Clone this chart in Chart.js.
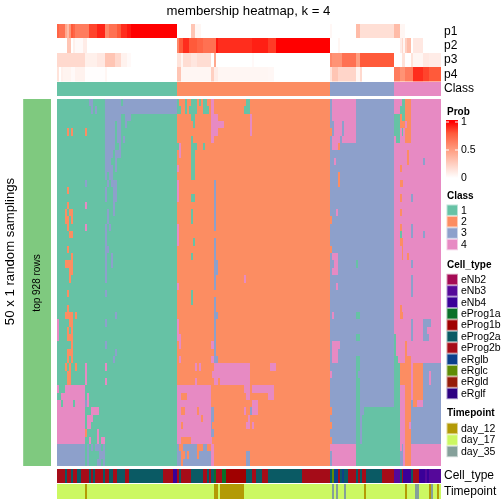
<!DOCTYPE html>
<html>
<head>
<meta charset="utf-8">
<title>membership heatmap, k = 4</title>
<script src="https://cdn.jsdelivr.net/npm/chart.js@4"></script>
<style>
  html, body { margin: 0; padding: 0; background: #fff; }
  canvas { display: block; }
</style>
</head>
<body>
<canvas id="heatmap" width="504" height="504"></canvas>
<script>
// ---------------------- data ----------------------
const columnCount = 193;
const classNames = ["1", "2", "3", "4"];
const classColors = ["#66C2A5", "#FC8D62", "#8DA0CB", "#E78AC3"];
// class of every column before the per-row differences below: [class, end column]
const classBlocks = [[1, 60], [2, 137], [3, 169], [4, 193]];

const cellTypeNames = ["eNb2", "eNb3", "eNb4", "eProg1a", "eProg1b", "eProg2a", "eProg2b", "eRglb", "eRglc", "eRgld", "eRglf"];
const cellTypeColors = ["#A50A55", "#55089A", "#3A0098", "#0A7028", "#A00000", "#0A5A64", "#A50C18", "#0A408C", "#5F8C05", "#961C0A", "#2D0082"];
const timepointNames = ["day_12", "day_17", "day_35"];
const timepointColors = ["#B39A05", "#CCF862", "#85A09A"];
const trackNames = ["p1", "p2", "p3", "p4"];

// membership probability tracks: [start, end, prob]
const p1Runs = [[0,1,.75],[1,4,.7],[4,5,.45],[5,6,.35],[6,7,.55],[7,8,.8],[8,9,.75],[9,16,.65],[16,20,.85],[20,24,.92],[24,26,.6],[26,30,.7],[30,32,.8],[32,35,.9],[35,37,.95],[37,60,1],[60,67,0],[67,69,.3],[69,72,.05],[72,137,0],[137,138,.04],[138,150,0],[150,152,.35],[152,169,.17],[169,172,.35],[172,175,.05],[175,193,0]];
const p2Runs = [[0,5,0],[5,7,.3],[7,8,0],[8,9,.08],[9,13,.03],[13,15,.1],[15,60,0],[60,61,.6],[61,63,.8],[63,66,.9],[66,70,.8],[70,73,.75],[73,80,.7],[80,81,.95],[81,98,.9],[98,106,.93],[106,110,.87],[110,137,1],[137,141,0],[141,142,.05],[142,172,0],[172,173,.1],[173,174,.2],[174,175,.05],[175,176,.25],[176,178,.35],[178,179,0],[179,184,.12],[184,193,0]];
const p3Runs = [[0,14,.2],[14,16,.08],[16,20,.08],[20,24,.12],[24,29,.3],[29,32,.2],[32,35,.07],[35,37,.03],[37,60,0],[60,62,.15],[62,63,.05],[63,67,.18],[67,70,.13],[70,77,.18],[77,79,0],[79,80,.45],[80,98,0],[98,99,.03],[99,137,0],[137,138,.6],[138,143,.55],[143,150,.7],[150,152,.5],[152,169,.8],[169,173,0],[173,175,.15],[175,178,0],[178,179,.15],[179,184,.05],[184,187,.12],[187,193,.1]];
const p4Runs = [[0,1,.15],[1,2,0],[2,3,.08],[3,7,.06],[7,9,.03],[9,14,.07],[14,24,.01],[24,25,.05],[25,60,0],[60,62,.3],[62,77,.05],[77,79,.25],[79,81,.1],[81,106,.05],[106,109,.04],[109,137,0],[137,138,.15],[138,141,.3],[141,150,.22],[150,152,.05],[152,153,.2],[153,169,0],[169,172,.65],[172,175,.55],[175,179,.65],[179,184,.9],[184,187,.85],[187,193,.8]];

// bottom annotation tracks: [name, end column]
const cellTypeRuns = [["eProg2b",4],["eProg2a",5],["eProg2b",7],["eProg2a",8],["eProg2b",10],["eProg2a",12],["eProg2b",16],["eProg2a",17],["eProg2b",18],["eProg2a",19],["eProg2b",23],["eProg2a",24],["eProg2b",26],["eProg2a",28],["eProg2b",30],["eProg2a",34],["eProg2b",36],["eProg2a",53],["eProg2b",58],["eNb4",60],["eProg2b",61],["eProg2a",62],["eProg2b",67],["eProg2a",73],["eProg2b",75],["eProg2a",76],["eProg2b",77],["eProg2a",79],["eProg1a",80],["eProg2b",83],["eProg1a",85],["eProg1b",95],["eProg2a",98],["eProg2b",100],["eProg2a",103],["eProg2b",106],["eProg2a",123],["eProg2b",137],["eProg2a",138],["eRglc",139],["eRglb",141],["eProg2b",142],["eProg2a",143],["eRglb",144],["eProg2a",146],["eProg2b",150],["eProg2a",151],["eProg2b",152],["eProg2a",153],["eProg2b",155],["eProg2a",163],["eProg2b",169],["eNb3",172],["eProg2a",173],["eProg2b",174],["eNb4",178],["eProg2a",179],["eProg2b",182],["eNb4",185],["eNb3",186],["eNb4",187],["eNb3",193]];
const timepointRuns = [["day_17",14],["day_12",15],["day_17",79],["day_12",81],["day_17",82],["day_12",94],["day_17",138],["day_35",139],["day_17",140],["day_35",141],["day_17",144],["day_35",145],["day_17",154],["day_12",155],["day_17",175],["day_12",176],["day_17",180],["day_35",182],["day_17",187],["day_12",188],["day_35",189],["day_17",191],["day_12",192],["day_17",193]];

// per row differences from classBlocks, flat triples: class, start, end (later wins)
const rowChanges = [
  [3,16,18, 3,24,32, 3,33,60, 1,60,61, 1,64,65, 1,67,70, 1,71,72, 1,73,75, 4,77,79, 1,95,97, 3,137,138, 4,138,150, 1,173,175, 2,175,178],
  [3,17,18, 3,19,20, 3,24,60, 1,60,62, 1,64,65, 1,66,70, 1,73,76, 4,77,79, 1,94,97, 4,138,150, 4,171,172, 1,172,175, 2,175,178],
  [3,24,32, 3,34,37, 1,67,69, 4,77,81, 4,97,98, 4,138,150, 1,169,172, 2,172,173, 1,173,175, 2,175,178],
  [3,24,29, 3,30,32, 3,34,35, 1,68,69, 4,77,84, 4,97,98, 4,139,143, 4,144,150, 1,169,172, 2,172,175, 2,176,178],
  [2,5,6, 2,7,8, 2,14,15, 3,24,29, 3,30,32, 4,77,81, 4,97,98, 2,137,138, 4,139,143, 4,144,150, 1,169,172, 1,173,174, 2,175,178],
  [3,24,29, 3,30,32, 3,33,34, 1,67,68, 4,77,79, 4,138,142, 4,143,150, 1,170,172, 2,175,178],
  [3,24,29, 3,31,32, 1,60,61, 4,61,62, 1,67,70, 1,73,74, 4,138,141, 2,141,142],
  [3,24,28, 3,29,32, 4,61,62, 1,67,69, 2,176,177],
  [3,24,27, 3,29,30, 1,67,69, 4,139,140, 2,176,177, 3,184,185],
  [3,24,28, 3,29,30, 4,60,61, 1,67,69, 2,172,173],
  [3,24,25, 3,26,28, 1,67,69, 2,141,142],
  [3,14,15, 3,25,26, 3,27,30, 4,60,61, 3,79,80, 2,141,142, 2,172,174],
  [2,5,6, 3,24,25, 3,28,30, 4,60,61, 3,79,80],
  [3,24,25, 3,28,30, 4,60,61, 1,67,69, 3,79,80, 2,172,173, 3,178,179],
  [2,5,6, 4,14,15, 3,28,29, 3,79,80],
  [2,4,5, 2,6,8, 3,25,26, 3,28,29, 1,67,68, 3,79,80, 4,140,141, 2,172,173],
  [2,4,6, 2,7,8, 3,25,26, 1,67,68, 3,79,80, 2,137,138],
  [2,5,6, 4,14,15, 3,24,25, 3,26,27, 4,60,61, 3,79,80, 2,172,173, 3,178,179],
  [2,6,8, 3,24,25, 4,60,61, 1,172,173, 3,178,179, 3,184,185],
  [3,24,25, 4,60,61, 1,68,69, 3,79,80, 2,172,174],
  [2,5,6, 3,24,26, 3,79,80, 2,137,138, 2,173,174],
  [2,7,8, 3,24,25, 3,27,28, 1,67,68, 3,79,80, 4,138,141, 2,173,174, 2,176,177],
  [2,4,8, 3,24,25, 3,27,28, 3,79,81, 4,139,141, 1,150,151, 3,178,179],
  [2,6,8, 3,24,25, 3,79,81, 4,138,141],
  [2,6,7, 3,24,25, 3,79,80, 4,94,95, 3,178,179],
  [4,60,61, 3,79,80, 4,140,141, 3,178,179],
  [2,5,6, 3,24,25, 1,67,68, 3,178,179],
  [1,67,68, 3,79,80],
  [2,5,6, 3,79,80, 2,172,173],
  [2,4,8, 2,9,10, 3,29,30, 3,79,81, 4,138,139, 1,150,152, 2,172,174],
  [4,0,1, 2,6,8, 3,24,25, 4,60,61, 3,79,80, 3,178,179, 3,184,188],
  [4,0,1, 2,5,6, 2,7,8, 4,60,61, 3,79,80, 3,178,179, 3,184,186],
  [4,0,1, 2,5,8, 4,60,62, 3,79,80, 1,150,152, 1,169,170, 3,178,179, 3,184,187],
  [2,7,8, 3,24,25, 4,61,62, 4,77,79, 3,79,80, 4,138,142, 1,169,170, 2,175,176],
  [2,5,8, 3,29,30, 3,79,80, 4,138,141, 1,169,170, 2,175,176],
  [2,5,6, 2,7,8, 3,28,29, 4,61,62, 4,77,79, 3,79,81, 4,138,141, 1,150,152, 1,169,171, 2,175,178],
  [2,4,5, 2,6,7, 2,9,10, 4,14,15, 4,24,25, 4,69,70, 4,71,72, 4,79,97, 4,107,110, 1,150,152, 1,169,172, 2,172,178, 2,179,184, 3,184,193],
  [2,5,7, 4,14,15, 4,78,97, 4,137,138, 1,150,151, 1,169,172, 2,172,178, 2,179,184, 3,184,187, 3,188,193],
  [2,5,7, 4,14,15, 4,24,25, 4,69,70, 4,79,81, 4,82,97, 1,150,152, 1,169,172, 2,172,178, 2,179,184, 3,184,187, 3,188,193],
  [4,0,1, 4,4,14, 4,60,77, 4,94,97, 4,98,109, 1,150,152, 1,169,172, 2,175,178, 2,179,184, 3,184,193],
  [4,2,14, 4,15,16, 4,60,62, 4,65,77, 4,95,97, 4,106,109, 1,150,152, 1,169,172, 2,175,178, 2,179,184, 3,184,193],
  [4,0,2, 4,3,8, 4,9,14, 3,14,15, 4,15,16, 4,60,77, 4,98,101, 1,150,152, 1,169,172, 2,175,178, 3,178,193, 2,179,181, 4,181,184],
  [4,0,14, 4,17,21, 4,60,62, 4,64,70, 4,71,77, 3,77,79, 4,94,95, 3,97,98, 4,98,101, 2,137,138, 1,150,152, 1,154,172, 2,175,178, 3,178,193],
  [4,0,14, 4,15,18, 4,60,72, 4,73,77, 3,77,79, 4,96,97, 1,150,152, 1,153,172, 2,175,178, 3,178,193],
  [4,0,14, 4,15,17, 4,60,62, 4,63,77, 3,77,78, 4,95,97, 4,98,99, 2,137,138, 1,150,152, 1,153,172, 2,175,177, 3,178,193],
  [4,0,14, 2,14,15, 4,20,21, 4,60,77, 3,77,79, 1,150,152, 1,153,172, 2,175,178, 3,178,193],
  [4,0,14, 4,16,17, 4,20,21, 4,22,24, 4,60,62, 4,67,78, 2,137,138, 1,150,152, 1,153,172, 2,175,178, 3,178,193],
  [3,0,14, 3,15,16, 3,17,18, 3,19,22, 3,23,24, 3,60,61, 3,63,70, 3,73,75, 4,77,79, 4,137,150, 1,150,172, 3,173,174, 2,175,178],
  [3,0,14, 3,15,16, 3,21,24, 3,60,62, 3,64,65, 3,66,70, 3,71,77, 4,77,79, 3,95,97, 3,137,138, 4,138,150, 1,150,172, 3,172,174, 2,175,178],
  [3,0,14, 3,15,16, 3,20,22, 3,23,24, 3,60,62, 3,63,77, 4,77,79, 3,95,97, 3,137,138, 4,138,150, 1,150,172, 3,172,174, 2,175,178],
];

// ---------------------- turn the lists into bars ----------------------
const rowLabels = rowChanges.map((_, i) => "r" + i);

// white to red ramp of the Prob legend
const probStops = [[0, [255,255,255]], [.2, [255,217,206]], [.5, [255,158,129]], [.8, [255,90,58]], [1, [255,0,0]]];
function probColor(p) {
  for (let i = 1; i < probStops.length; i++) {
    const [t0, c0] = probStops[i - 1];
    const [t1, c1] = probStops[i];
    if (p <= t1) {
      const f = (p - t0) / (t1 - t0);
      return `rgb(${c0.map((c, k) => Math.round(c + (c1[k] - c) * f)).join(",")})`;
    }
  }
  return "#f00";
}

function expandRow(changes) {
  const cols = new Array(columnCount);
  let from = 0;
  classBlocks.forEach(([cls, end]) => {
    cols.fill(cls, from, end);
    from = end;
  });
  for (let i = 0; i < changes.length; i += 3) {
    cols.fill(changes[i], changes[i + 1], changes[i + 2]);
  }
  return cols;
}

// one floating bar per run of equal cells
const mainBars = classNames.map(() => []);
rowChanges.forEach((changes, r) => {
  const cols = expandRow(changes);
  let start = 0;
  for (let c = 1; c <= columnCount; c++) {
    if (c === columnCount || cols[c] !== cols[start]) {
      mainBars[cols[start] - 1].push({ x: [start, c], y: rowLabels[r] });
      start = c;
    }
  }
});

function namedRunsDataset(runs, names, colors, label, axis) {
  let start = 0;
  const data = [], backgroundColor = [];
  runs.forEach(([name, end]) => {
    data.push({ x: [start, end], y: label });
    backgroundColor.push(colors[names.indexOf(name)]);
    start = end;
  });
  return { label, data, backgroundColor, yAxisID: axis };
}

const probDatasets = [p1Runs, p2Runs, p3Runs, p4Runs].map((runs, i) => ({
  label: trackNames[i],
  data: runs.map(([a, b]) => ({ x: [a, b], y: trackNames[i] })),
  backgroundColor: runs.map((run) => probColor(run[2])),
  yAxisID: "yProb",
}));

let classStart = 0;
const classBar = classBlocks.map(([cls, end]) => {
  const bar = { x: [classStart, end], y: "Class" };
  classStart = end;
  return bar;
});

const datasets = [
  ...probDatasets,
  { label: "Class", data: classBar, backgroundColor: classBlocks.map((b) => classColors[b[0] - 1]), yAxisID: "yClass" },
  ...mainBars.map((data, i) => ({ label: classNames[i], data, backgroundColor: classColors[i], yAxisID: "yMain" })),
  { label: "rows", data: rowLabels.map((y) => ({ x: [-17, -3], y })), backgroundColor: "#7FC97F", yAxisID: "yMain" },
  namedRunsDataset(cellTypeRuns, cellTypeNames, cellTypeColors, "Cell_type", "yCell"),
  namedRunsDataset(timepointRuns, timepointNames, timepointColors, "Timepoint", "yTime"),
];

// ---------------------- plugins ----------------------
const labelFont = "Liberation Sans, Arial, sans-serif";

// snap bars to whole pixels, otherwise thin seams show between rows
const snapBars = {
  id: "snapBars",
  afterDatasetsUpdate(chart) {
    chart.getSortedVisibleDatasetMetas().forEach((meta) => {
      meta.data.forEach((bar) => {
        // toFixed so two neighbour rows round their shared edge the same way
        const top = Math.round(+(bar.y - bar.height / 2).toFixed(2));
        const bottom = Math.round(+(bar.y + bar.height / 2).toFixed(2));
        bar.y = (top + bottom) / 2;
        bar.height = bottom - top;
        bar.x = Math.ceil(bar.x - 0.2);
        bar.base = Math.ceil(bar.base - 0.2);
      });
    });
  },
};

const legendText = {
  id: "legendText",
  afterDraw(chart) {
    const ctx = chart.ctx;
    ctx.save();
    ctx.textBaseline = "middle";
    ctx.fillStyle = "#000";

    const text = (str, x, y, font, align) => {
      ctx.font = `${font} ${labelFont}`;
      ctx.textAlign = align || "left";
      ctx.fillText(str, x, y);
    };
    const rotated = (str, x, y, font) => {
      ctx.save();
      ctx.translate(x, y);
      ctx.rotate(-Math.PI / 2);
      text(str, 0, 0, font, "center");
      ctx.restore();
    };
    const swatch = (color, y) => {
      ctx.fillStyle = color;
      ctx.globalAlpha = 0.45;
      ctx.fillRect(446.5, y - 5.7, 11.5, 11.4);
      ctx.globalAlpha = 1;
      ctx.fillRect(447.5, y - 4.7, 9.5, 9.4);
      ctx.fillStyle = "#000";
    };
    const block = (title, titleY, names, colors, firstY, gap) => {
      text(title, 447, titleY, "bold 10px");
      names.forEach((name, i) => {
        const y = firstY + i * gap;
        swatch(colors[i], y);
        text(name, 461, y + 0.5, "10.5px");
      });
    };

    text("membership heatmap, k = 4", 248.5, 11, "13.2px", "center");
    rotated("50 x 1 random samplings", 10.5, 251.5, "13.2px");
    rotated("top 928 rows", 37.5, 283, "10px");

    // Prob colour bar
    text("Prob", 447, 112, "bold 10px");
    const grad = ctx.createLinearGradient(0, 122, 0, 178);
    probStops.forEach(([t, c]) => grad.addColorStop(1 - t, `rgb(${c.join(",")})`));
    ctx.fillStyle = grad;
    ctx.fillRect(446, 120, 12, 59);
    ctx.fillStyle = "#fff";
    [122, 150].forEach((y) => {
      ctx.fillRect(446, y - 0.5, 3, 1);
      ctx.fillRect(455, y - 0.5, 3, 1);
    });
    ctx.fillStyle = "#000";
    text("1", 461, 122.5, "10.5px");
    text("0.5", 461, 150.5, "10.5px");
    text("0", 461, 178.5, "10.5px");

    block("Class", 196, classNames, classColors, 210.2, 11.45);
    block("Cell_type", 265, cellTypeNames, cellTypeColors, 279.5, 11.4);
    block("Timepoint", 413.5, timepointNames, timepointColors, 428.5, 11.5);
    ctx.restore();
  },
};

// ---------------------- chart ----------------------
const rightAxis = (labels, weight) => ({
  type: "category",
  labels,
  position: "right",
  stack: "heat",
  stackWeight: weight,
  offset: true,
  grid: { display: false, drawTicks: false },
  border: { display: false },
  ticks: { color: "#000", padding: 3, autoSkip: false, crossAlign: "near", font: { size: 12, family: labelFont } },
  afterFit: (scale) => {
    scale.width = 63;
    // tick labels must not push the chart area in
    scale.paddingTop = 0;
    scale.paddingBottom = 0;
  },
});
const spacerAxis = (weight) => ({ type: "linear", display: false, position: "right", stack: "heat", stackWeight: weight });

new Chart(document.getElementById("heatmap"), {
  type: "bar",
  data: { labels: rowLabels, datasets },
  plugins: [snapBars, legendText],
  options: {
    indexAxis: "y",
    responsive: false,
    animation: false,
    events: [],
    layout: { autoPadding: false, padding: { top: 24, bottom: 5, left: 23.18, right: 0 } },
    datasets: { bar: { barPercentage: 1, categoryPercentage: 1, grouped: false, borderWidth: 0, inflateAmount: 0 } },
    plugins: { legend: { display: false }, tooltip: { enabled: false }, title: { display: false } },
    scales: {
      x: { type: "linear", min: -17, max: columnCount, display: false },
      yProb: rightAxis(trackNames, 57.5),
      gap1: spacerAxis(0.5),
      yClass: rightAxis(["Class"], 14),
      gap2: spacerAxis(3),
      yMain: { ...rightAxis(rowLabels, 367), ticks: { display: false } },
      gap3: spacerAxis(3),
      yCell: rightAxis(["Cell_type"], 14),
      gap4: spacerAxis(1),
      yTime: rightAxis(["Timepoint"], 15),
    },
  },
});
</script>
</body>
</html>
